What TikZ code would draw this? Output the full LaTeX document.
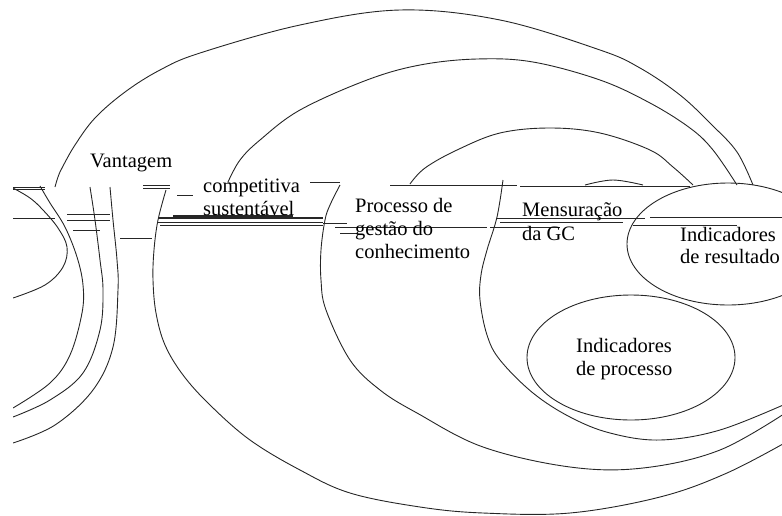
\documentclass[tikz,border=0pt]{standalone}
\usepackage{fontspec}
\setmainfont{Liberation Serif}
\begin{document}
\begin{tikzpicture}[x=1pt,y=-1pt,
  arcline/.style={line width=0.9pt, black!85},
  glitch/.style={line width=0.8pt, black!85},
  lbl/.style={anchor=base west, inner sep=0pt, font=\fontsize{20.5}{24}\selectfont}]
\useasboundingbox (0,0) rectangle (782,515);
\coordinate (irc) at (728,244);
\coordinate (ipc) at (631,357.5);
\begin{scope}
\clip (13,0) rectangle (782,515);
% upper arcs
\draw[arcline] plot[smooth, tension=0.6] coordinates {(55,187) (58,177) (62,168) (75,145) (95,118) (125,92) (160,70) (200,53) (300,25) (400,10) (500,20) (600,50) (640,68) (680,95) (712,125) (737,152) (753,185)};
\draw[arcline] plot[smooth, tension=0.6] coordinates {(228,182) (240,160) (260,140) (300,110) (367,80) (420,65) (477,59) (533,62) (600,80) (650,103) (690,128) (713,150) (737,185)};
\draw[arcline] plot[smooth, tension=0.6] coordinates {(410,184) (425,168) (457,150) (500,133) (550,128) (600,133) (650,150) (673,167) (693,185)};
\draw[arcline] plot[smooth, tension=0.6] coordinates {(585,185) (613,180) (643,185)};
% lower left arcs
\draw[arcline] plot[smooth, tension=0.6] coordinates {(13,188) (30,198) (43,210) (58,228) (67,247) (63,267) (45,285) (13,298)};
\draw[arcline] plot[smooth, tension=0.6] coordinates {(40,186) (50,203) (65,227) (77,257) (83,285) (82,313) (70,355) (50,383) (13,408)};
\draw[arcline] plot[smooth, tension=0.6] coordinates {(90,187) (95,220) (100,260) (103,290) (100,330) (83,373) (50,400) (13,417)};
\draw[arcline] plot[smooth, tension=0.6] coordinates {(110,187) (113,220) (117,260) (118,290) (113,347) (93,390) (55,425) (13,443)};
% lower big arcs
\draw[arcline] plot[smooth, tension=0.6] coordinates {(166,190) (158,220) (154,250) (153,280) (156,313) (165,345) (183,375) (210,405) (250,440) (300,470) (350,493) (420,507) (483,513) (570,513) (660,497) (727,473) (790,440)};
\draw[arcline] plot[smooth, tension=0.6] coordinates {(340,185) (330,205) (325,220) (321,250) (321,280) (326,310) (350,360) (380,390) (417,413) (483,447) (570,467) (643,468) (720,450) (790,410)};
\draw[arcline] plot[smooth, tension=0.6] coordinates {(503,180) (497,217) (487,250) (481,275) (480,300) (487,335) (500,360) (533,393) (570,417) (610,433) (660,440) (720,430) (790,402)};
% ellipses
\draw[arcline] (irc) ellipse [x radius=101pt, y radius=61pt];
\draw[arcline] (ipc) ellipse [x radius=104pt, y radius=62.5pt];
% broken horizontal strokes
\foreach \xa/\xb/\yy in {13/55/218, 67/110/214, 67/110/220, 73/100/230, 120/152/238, 13/45/187, 13/45/189, 143/170/185, 143/170/188, 177/193/195, 158/323/222, 160/323/225, 323/347/223, 340/357/233, 335/487/227, 310/340/182, 390/517/185, 520/690/186, 497/645/218, 650/782/217, 500/623/222, 490/560/227, 633/737/225}
  \draw[glitch] (\xa,\yy) -- (\xb,\yy);
\draw[line width=1.4pt, black!85] (158,218) -- (323,218);
\draw[line width=1.2pt, black!85] (173,216) -- (293,216);
\end{scope}
% labels
\node[lbl] (t1) at (90,167) {Vantagem};
\node[lbl] (t2) at (203,192) {competitiva};
\node[lbl] (t3) at (203,215) {sustentável};
\node[lbl] (t4) at (355,212) {Processo de};
\node[lbl] (t5) at (355,235) {gestão do};
\node[lbl] (t6) at (355,258) {conhecimento};
\node[lbl] (t7) at (522,216) {Mensuração};
\node[lbl] (t8) at (522,240) {da GC};
\node[lbl] (t9) at (680,241) {Indicadores};
\node[lbl] (t10) at (680,263) {de resultado};
\node[lbl] (t11) at (576,352) {Indicadores};
\node[lbl] (t12) at (576,375) {de processo};
\end{tikzpicture}
\end{document}
